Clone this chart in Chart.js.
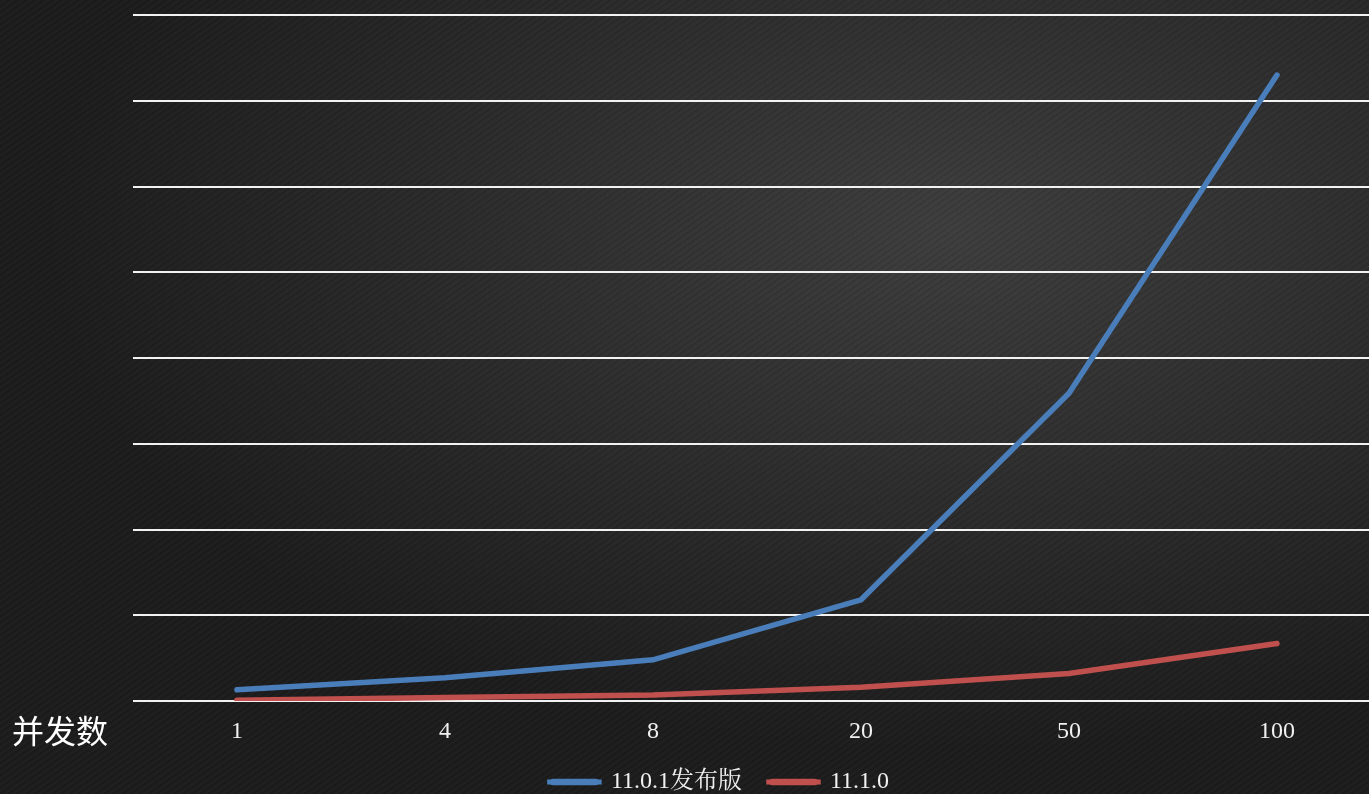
<!DOCTYPE html>
<html>
<head>
<meta charset="utf-8">
<script src="https://cdn.jsdelivr.net/npm/chart.js@4"></script>
<style>
html, body { margin: 0; padding: 0; width: 1369px; height: 794px; overflow: hidden; }
body {
    background:
        repeating-linear-gradient(-35deg, rgba(0,0,0,0.07) 0px, rgba(0,0,0,0.07) 1px, rgba(255,255,255,0.02) 2px, rgba(0,0,0,0) 5px),
        radial-gradient(ellipse 900px 520px at 950px 230px, #3d3d3d 0%, #2e2e2e 45%, #1c1c1c 100%);
}
#wrap { position: absolute; left: 0; top: 0; width: 1400px; height: 804px; }
#xname {
    position: absolute; left: 12px; top: 708px;
    font-family: "Noto Sans CJK SC", "Noto Sans", sans-serif;
    font-size: 32px; color: #ffffff; line-height: 42px;
}
</style>
</head>
<body>
<div id="wrap"><canvas id="myChart" width="1400" height="804"></canvas></div>
<div id="xname">并发数</div>
<script>
// 并发数
let xValues = ['1', '4', '8', '20', '50', '100'];
// 11.0.1发布版
let arrV1101 = [0.13, 0.27, 0.48, 1.18, 3.59, 7.30];
// 11.1.0
let arrV1110 = [0.01, 0.04, 0.07, 0.16, 0.32, 0.67];

let grafico = new Chart("myChart", {
    type: "line",
    data: {
        labels: xValues,
        datasets: [{
            label: '11.0.1发布版',
            data: arrV1101,
            borderColor: "#4a7ebb",
            backgroundColor: "#4a7ebb",
            borderWidth: 5.5,
            borderCapStyle: 'round',
            pointRadius: 0,
            fill: false,
        }, {
            label: '11.1.0',
            data: arrV1110,
            borderColor: "#c0504d",
            backgroundColor: "#c0504d",
            borderWidth: 5.5,
            borderCapStyle: 'round',
            pointRadius: 0,
            fill: false,
        }]
    },
    options: {
        responsive: false,
        animation: false,
        layout: { padding: { top: 15, left: 58, right: 19, bottom: 0 } },
        scales: {
            x: {
                offset: true,
                grid: { display: false, drawTicks: false },
                border: { display: false },
                ticks: {
                    color: '#f0f0f0',
                    padding: 16,
                    font: { family: '"Liberation Serif", serif', size: 24 }
                },
                afterFit: (s) => { s.height = 42; }
            },
            y: {
                min: 0,
                max: 8,
                ticks: { display: false, stepSize: 1 },
                border: { display: false },
                grid: { color: '#f2f2f2', lineWidth: 2, drawTicks: false },
                afterFit: (s) => { s.width = 75; }
            }
        },
        plugins: {
            tooltip: { enabled: false },
            legend: {
                display: true,
                position: 'bottom',
                labels: {
                    color: '#f0f0f0',
                    boxWidth: 49,
                    boxHeight: 1,
                    useBorderRadius: true,
                    borderRadius: 3,
                    padding: 27,
                    font: { family: '"Liberation Serif", "Noto Serif CJK SC", "Noto Sans CJK SC", serif', size: 24 }
                }
            }
        }
    }
});
</script>
</body>
</html>
